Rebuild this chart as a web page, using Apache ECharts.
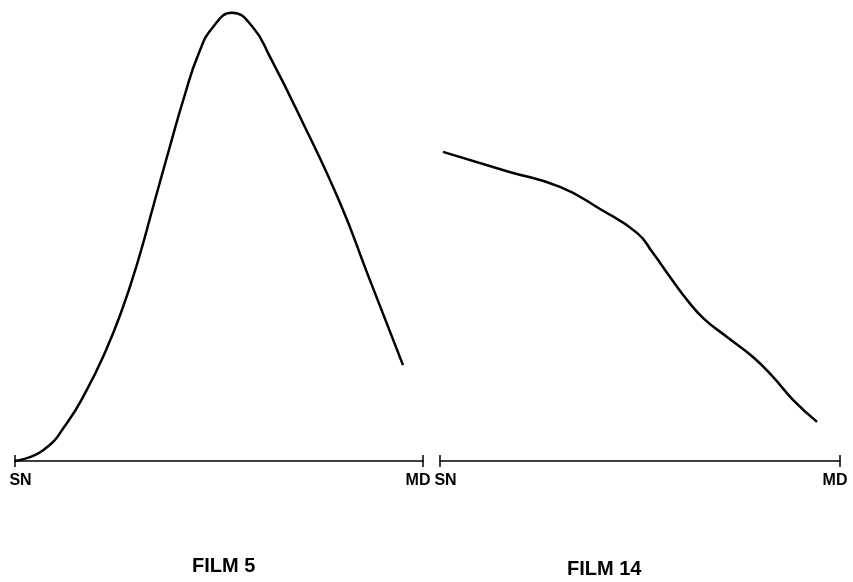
<!DOCTYPE html>
<html>
<head>
<meta charset="utf-8">
<script src="https://cdn.jsdelivr.net/npm/echarts@6/dist/echarts.min.js"></script>
<style>html,body{margin:0;padding:0;background:#fff}#c{width:853px;height:582px}</style>
</head>
<body>
<div id="c"></div>
<script>
// Panel titles and axis end labels
const panelTitles = ['FILM 5', 'FILM 14'];
const startLabel = 'SN';
const endLabel = 'MD';

// FILM 5 curve: position along SN→MD (0–100) and relative level (0–100)
const film5X = [0, 6.9, 12.7, 17.6, 22, 26, 30, 34, 38, 41.5, 45, 48.5, 53.2, 58.3, 62.5, 69.9, 79.7, 86.3, 95.1];
const film5Y = [0, 2.4, 8.4, 15.8, 24, 33, 44, 57, 70, 81, 90.5, 96.4, 99.6, 96.4, 89.8, 76.4, 57.3, 41.8, 21.3];

// FILM 14 curve
const film14X = [0.75, 16.75, 30, 40, 49.25, 53.25, 57.5, 61.75, 66, 72, 78.25, 83.25, 88.25, 94.25];
const film14Y = [68.7, 64.4, 60.9, 56, 50.7, 46.2, 40.9, 35.8, 31.6, 27.4, 23.1, 18.7, 13.6, 8.7];

const pairs = (xs, ys) => xs.map((x, i) => [x, ys[i]]);

const chart = echarts.init(document.getElementById('c'), null, {renderer: 'canvas'});
const labelFmt = v => (v === 0 ? '{sn|' + startLabel + '}' : (v === 100 ? '{md|' + endLabel + '}' : ''));
const font = '"Liberation Sans", Arial, sans-serif';
const lblStyle = {color: '#000', fontSize: 16, fontWeight: 'bold', fontFamily: font};

function xAxisPair(gi) {
  return [
    {
      type: 'value', gridIndex: gi, min: 0, max: 100, interval: 100, position: 'bottom',
      axisLine: {show: true, lineStyle: {color: '#000', width: 1.5}},
      axisTick: {show: true, length: 6, lineStyle: {color: '#000', width: 1.5}},
      splitLine: {show: false},
      axisLabel: {
        show: true, formatter: labelFmt, margin: 12,
        rich: {
          sn: Object.assign({padding: [0, 0, 0, 11]}, lblStyle),
          md: Object.assign({padding: [0, 10, 0, 0]}, lblStyle)
        }
      }
    },
    {
      type: 'value', gridIndex: gi, min: 0, max: 100, interval: 100, position: 'bottom',
      axisLine: {show: false},
      axisTick: {show: true, inside: true, length: 6, lineStyle: {color: '#000', width: 1.5}},
      splitLine: {show: false},
      axisLabel: {show: false}
    }
  ];
}

const option = {
  backgroundColor: '#fff',
  animation: false,
  grid: [
    {left: 15, width: 408, top: 11, height: 450},
    {left: 440, width: 400, top: 11, height: 450}
  ],
  xAxis: [].concat(xAxisPair(0), xAxisPair(1)),
  yAxis: [
    {type: 'value', gridIndex: 0, min: 0, max: 100, show: false},
    {type: 'value', gridIndex: 1, min: 0, max: 100, show: false}
  ],
  series: [
    {type: 'line', xAxisIndex: 0, yAxisIndex: 0, data: pairs(film5X, film5Y), smooth: 0.5, showSymbol: false, lineStyle: {color: '#000', width: 2.5}},
    {type: 'line', xAxisIndex: 2, yAxisIndex: 1, data: pairs(film14X, film14Y), smooth: 0.5, showSymbol: false, lineStyle: {color: '#000', width: 2.5}}
  ],
  graphic: [
    {type: 'text', left: 192, top: 556, style: {text: panelTitles[0], fill: '#000', font: 'bold 20px ' + font}},
    {type: 'text', left: 567, top: 559, style: {text: panelTitles[1], fill: '#000', font: 'bold 20px ' + font}}
  ]
};
chart.setOption(option);
</script>
</body>
</html>
